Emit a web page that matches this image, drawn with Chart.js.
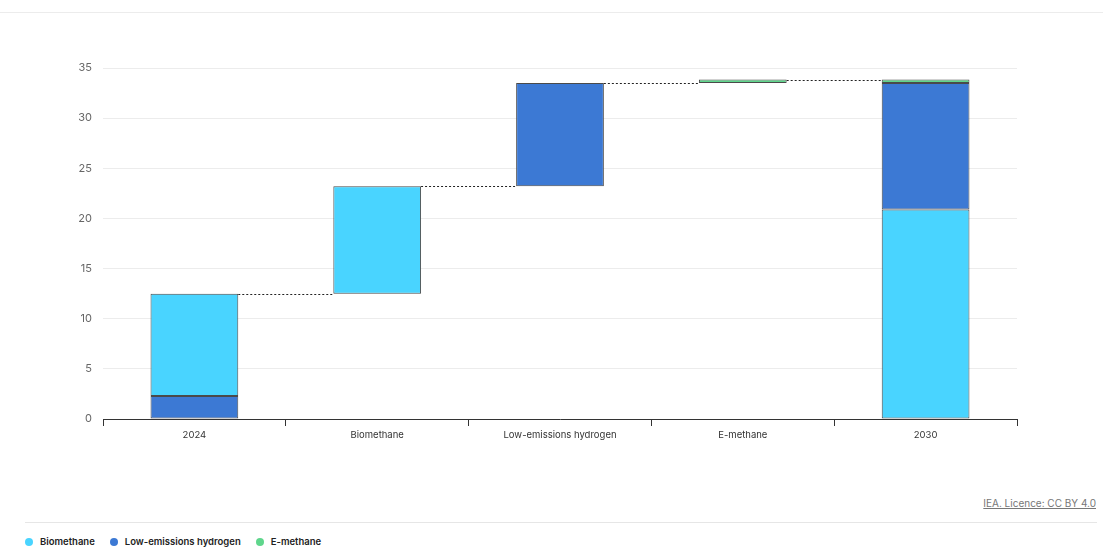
<!DOCTYPE html>
<html>
<head>
<meta charset="utf-8">
<script src="https://cdn.jsdelivr.net/npm/chart.js@4"></script>
<style>
  html, body { margin:0; padding:0; background:#fff; }
  body { width:1103px; height:555px; position:relative; overflow:hidden; font-family:Inter, "Noto Sans", sans-serif; }
  .topline { position:absolute; left:0; right:0; top:12px; border-top:1px solid #ececec; }
  #wrap { position:absolute; left:0; top:0; width:1103px; height:470px; }
  .credit { position:absolute; right:7px; top:497px; font-size:10px; color:#777; text-decoration:underline; }
  .sep { position:absolute; left:25px; right:6px; top:522px; border-top:1px solid #e6e6e6; }
  .legend { position:absolute; left:25px; top:536px; display:flex; gap:15px; font-size:9.5px; font-weight:600; color:#222; }
  .legend span { display:flex; align-items:center; }
  .legend i { display:inline-block; width:8px; height:8px; border-radius:50%; margin-right:7px; }
</style>
</head>
<body>
<div class="topline"></div>
<div id="wrap"><canvas id="chart"></canvas></div>
<div class="credit">IEA. Licence: CC BY 4.0</div>
<div class="sep"></div>
<div class="legend" id="legend"></div>
<script>
// ── Data ────────────────────────────────────────────────────
const categories = ['2024', 'Biomethane', 'Low-emissions hydrogen', 'E-methane', '2030'];
const seriesNames = ['Biomethane', 'Low-emissions hydrogen', 'E-methane'];
const seriesColors = ['#49d4ff', '#3c79d4', '#5fd68c'];

const start2024  = [10.2, 2.3, 0];     // biomethane, hydrogen, e-methane
const increments = [10.7, 10.3, 0.35]; // growth to 2030 per source
const end2030    = [20.9, 12.6, 0.35];

// ── Build floating ranges ───────────────────────────────────
const ranges = seriesNames.map(() => categories.map(() => null));
// 2024: hydrogen at the bottom, biomethane on top
ranges[1][0] = [0, start2024[1]];
ranges[0][0] = [start2024[1], start2024[1] + start2024[0]];
let running = start2024[0] + start2024[1] + start2024[2];
const levels = [running];
increments.forEach((v, i) => {
  ranges[i][i + 1] = [running, running + v];
  running += v;
  levels.push(running);
});
// 2030: biomethane, hydrogen, e-methane
let acc = 0;
end2030.forEach((v, i) => { ranges[i][4] = [acc, acc + v]; acc += v; });

// ── Connector plugin ────────────────────────────────────────
const connectors = {
  id: 'connectors',
  afterDatasetsDraw(chart) {
    const { ctx, scales: { x, y } } = chart;
    const el = chart.getDatasetMeta(0).data[0];
    const half = el.width / 2;
    ctx.save();
    ctx.strokeStyle = '#222';
    ctx.lineWidth = 1;
    ctx.setLineDash([2, 2]);
    levels.forEach((lv, i) => {
      const py = Math.round(y.getPixelForValue(lv)) + 0.5;
      ctx.beginPath();
      ctx.moveTo(x.getPixelForValue(i) + half, py);
      ctx.lineTo(x.getPixelForValue(i + 1) - half, py);
      ctx.stroke();
    });
    ctx.restore();
  }
};

new Chart(document.getElementById('chart'), {
  type: 'bar',
  data: {
    labels: categories,
    datasets: seriesNames.map((name, i) => ({
      label: name,
      data: ranges[i],
      backgroundColor: seriesColors[i],
      borderColor: '#4a4a4a',
      borderWidth: 1,
      borderSkipped: false,
      categoryPercentage: 1,
      barPercentage: 0.48,
    }))
  },
  options: {
    responsive: true, maintainAspectRatio: false, animation: false,
    layout: { padding: { left: 0, right: 86, top: 68, bottom: 0 } },
    plugins: { legend: { display: false }, tooltip: { enabled: false } },
    scales: {
      x: {
        stacked: true,
        grid: { offset: true, drawOnChartArea: false, tickLength: 7, color: '#333' },
        border: { color: '#333', width: 1 },
        ticks: { color: '#333', font: { family: 'Inter', size: 9.5 }, padding: 3 },
        afterFit(s) { s.height = 51; }
      },
      y: {
        min: 0, max: 35,
        grid: { color: '#ececec', drawTicks: false },
        border: { display: false },
        ticks: { stepSize: 5, color: '#666', font: { family: 'Inter', size: 11 }, padding: 11 },
        afterFit(s) { s.width = 103; }
      }
    }
  },
  plugins: [connectors]
});

document.getElementById('legend').innerHTML = seriesNames
  .map((n, i) => `<span><i style="background:${seriesColors[i]}"></i>${n}</span>`).join('');
</script>
</body>
</html>
